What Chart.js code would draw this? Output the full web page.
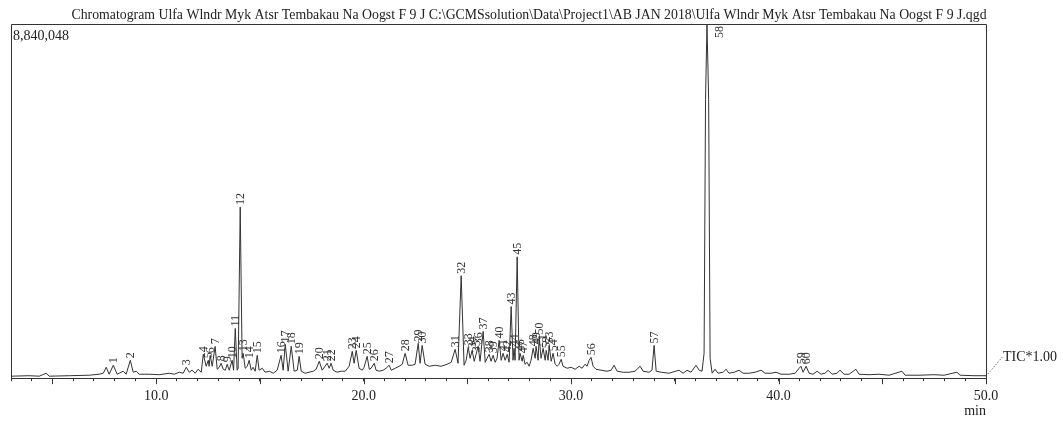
<!DOCTYPE html>
<html>
<head>
<meta charset="utf-8">
<script src="https://cdn.jsdelivr.net/npm/chart.js@4"></script>
<style>
  html, body { margin: 0; padding: 0; background: #fff; }
  #wrap { width: 1063px; height: 422px; }
</style>
</head>
<body>
<div id="wrap"><canvas id="chart"></canvas></div>
<script>
const titleText = "Chromatogram Ulfa Wlndr Myk Atsr Tembakau Na Oogst F 9 J C:\\GCMSsolution\\Data\\Project1\\AB JAN 2018\\Ulfa Wlndr Myk Atsr Tembakau Na Oogst F 9 J.qgd";
const yMax = 8840048;
const xLabels = [10, 20, 30, 40, 50];

// retention time (min) and TIC intensity
const rtMin = [
  3.00, 3.88, 4.36, 4.70, 4.84, 5.81, 6.77, 7.25, 7.45, 7.59, 7.73, 7.93, 8.12, 8.41, 8.55, 8.75, 8.89, 9.04, 9.18, 9.66,
  10.14, 10.63, 10.87, 11.11, 11.30, 11.45, 11.59, 11.73, 11.88, 12.02, 12.17, 12.27, 12.41, 12.51, 12.55, 12.60, 12.70, 12.84, 12.94, 13.04,
  13.13, 13.23, 13.33, 13.42, 13.52, 13.66, 13.73, 13.81, 13.90, 13.95, 14.05, 14.14, 14.19, 14.29, 14.39, 14.48, 14.58, 14.67, 14.77, 14.87,
  14.96, 15.11, 15.25, 15.45, 15.64, 15.83, 16.02, 16.12, 16.22, 16.36, 16.51, 16.65, 16.80, 16.89, 16.99, 17.18, 17.37, 17.57, 17.71, 17.86,
  18.00, 18.14, 18.24, 18.34, 18.43, 18.53, 18.72, 18.92, 19.11, 19.30, 19.45, 19.54, 19.64, 19.78, 19.93, 20.02, 20.17, 20.27, 20.36, 20.51,
  20.60, 20.75, 20.94, 21.08, 21.23, 21.33, 21.52, 21.71, 21.86, 22.00, 22.14, 22.34, 22.48, 22.63, 22.72, 22.82, 22.96, 23.16, 23.45, 23.73,
  24.02, 24.22, 24.41, 24.55, 24.70, 24.84, 24.94, 25.04, 25.13, 25.23, 25.33, 25.42, 25.52, 25.61, 25.76, 25.86, 25.95, 26.05, 26.14, 26.24,
  26.34, 26.43, 26.53, 26.63, 26.72, 26.82, 26.92, 27.01, 27.11, 27.20, 27.25, 27.30, 27.40, 27.49, 27.54, 27.64, 27.69, 27.78, 27.88, 27.98,
  28.07, 28.17, 28.27, 28.31, 28.41, 28.46, 28.55, 28.65, 28.75, 28.80, 28.89, 28.94, 29.04, 29.13, 29.23, 29.33, 29.42, 29.52, 29.61, 29.81,
  30.00, 30.19, 30.39, 30.53, 30.67, 30.77, 30.87, 30.96, 31.06, 31.20, 31.45, 31.73, 31.93, 32.07, 32.22, 32.51, 32.80, 33.08, 33.33, 33.47,
  33.76, 33.90, 34.00, 34.10, 34.34, 34.72, 35.20, 35.40, 35.59, 35.78, 36.02, 36.17, 36.31, 36.41, 36.48, 36.55, 36.63, 36.70, 36.80, 36.94,
  37.08, 37.33, 37.47, 37.61, 37.86, 38.10, 38.29, 38.58, 38.87, 39.16, 39.35, 39.64, 39.88, 40.12, 40.51, 40.80, 40.99, 41.08, 41.18, 41.33,
  41.47, 41.66, 41.86, 42.05, 42.24, 42.39, 42.58, 42.82, 42.96, 43.16, 43.40, 43.73, 43.88, 44.36, 44.84, 45.33, 45.95, 46.10, 46.77, 47.49,
  47.98, 48.60, 48.75, 49.42, 50.00
];
const tic = [
  50000, 62000, 50000, 124000, 50000, 62000, 74500, 99000, 124000, 273000, 99000, 323000, 99000, 174000, 99000, 447000, 149000, 174000, 99000, 99000,
  87000, 124000, 99000, 149000, 124000, 273000, 149000, 199000, 124000, 223000, 149000, 596000, 298000, 447000, 298000, 571000, 298000, 795000, 223000, 273000,
  372000, 223000, 199000, 348000, 199000, 447000, 199000, 1242000, 199000, 248000, 4271000, 497000, 621000, 248000, 298000, 447000, 199000, 273000, 174000, 571000,
  199000, 248000, 149000, 174000, 124000, 199000, 571000, 199000, 844000, 174000, 795000, 174000, 199000, 546000, 174000, 124000, 149000, 174000, 223000, 422000,
  199000, 298000, 372000, 248000, 372000, 199000, 149000, 174000, 174000, 298000, 670000, 372000, 695000, 248000, 199000, 273000, 546000, 223000, 248000, 372000,
  199000, 174000, 199000, 248000, 323000, 199000, 248000, 298000, 348000, 621000, 323000, 323000, 348000, 869000, 372000, 819000, 348000, 298000, 323000, 298000,
  348000, 397000, 720000, 372000, 2558000, 323000, 447000, 770000, 497000, 695000, 422000, 596000, 795000, 422000, 1167000, 397000, 497000, 596000, 422000, 571000,
  397000, 497000, 944000, 447000, 621000, 447000, 596000, 397000, 1788000, 447000, 745000, 447000, 3030000, 447000, 621000, 422000, 571000, 348000, 397000, 298000,
  447000, 745000, 497000, 795000, 447000, 1043000, 497000, 745000, 447000, 695000, 447000, 819000, 422000, 621000, 348000, 298000, 348000, 472000, 298000, 248000,
  273000, 223000, 298000, 248000, 348000, 298000, 447000, 521000, 298000, 223000, 199000, 174000, 199000, 323000, 174000, 149000, 149000, 174000, 298000, 174000,
  149000, 199000, 819000, 174000, 149000, 124000, 199000, 124000, 199000, 149000, 323000, 199000, 174000, 621000, 6953000, 8840048, 6953000, 497000, 124000, 223000,
  124000, 149000, 223000, 124000, 149000, 199000, 124000, 124000, 149000, 199000, 124000, 124000, 149000, 99000, 99000, 124000, 248000, 298000, 149000, 298000,
  124000, 99000, 174000, 99000, 124000, 199000, 99000, 124000, 199000, 99000, 99000, 223000, 99000, 87000, 99000, 74500, 174000, 74500, 74500, 87000,
  74500, 149000, 74500, 62000, 62000
];

// peak numbers and their retention times
const peakNo = [
  1, 2, 3, 4, 5, 6, 7, 8, 9, 10, 11, 12, 13, 14, 15, 16, 17, 18, 19, 20,
  21, 22, 23, 24, 25, 26, 27, 28, 29, 30, 31, 32, 33, 34, 35, 36, 37, 38, 39, 40,
  41, 42, 43, 44, 45, 46, 47, 48, 49, 50, 51, 52, 53, 54, 55, 56, 57, 58, 59, 60
];
const peakRt = [
  7.93, 8.75, 11.45, 12.27, 12.51, 12.60, 12.84, 13.13, 13.42, 13.66, 13.81, 14.05, 14.19, 14.48, 14.87, 16.02, 16.22, 16.51, 16.89, 17.86,
  18.24, 18.43, 19.45, 19.64, 20.17, 20.51, 21.23, 22.00, 22.63, 22.82, 24.41, 24.70, 25.04, 25.23, 25.42, 25.52, 25.76, 26.05, 26.24, 26.53,
  26.72, 26.92, 27.11, 27.25, 27.40, 27.54, 27.69, 28.17, 28.31, 28.46, 28.65, 28.80, 28.94, 29.13, 29.52, 30.96, 34.00, 36.55, 41.08, 41.33
];

const serif = "'Liberation Serif', 'DejaVu Serif', serif";

const overlay = {
  id: "overlay",
  afterDraw(chart) {
    const ctx = chart.ctx;
    const a = chart.chartArea;
    const xs = chart.scales.x;
    const ys = chart.scales.y;
    ctx.save();

    // frame
    ctx.strokeStyle = "#333";
    ctx.lineWidth = 1;
    ctx.beginPath();
    ctx.moveTo(a.left + 0.5, a.bottom);
    ctx.lineTo(a.left + 0.5, a.top + 0.5);
    ctx.lineTo(a.right + 0.5, a.top + 0.5);
    ctx.lineTo(a.right + 0.5, a.bottom);
    ctx.stroke();

    // longer ticks every 5 min
    ctx.beginPath();
    for (let t = 5; t <= 50; t += 5) {
      const px = Math.round(xs.getPixelForValue(t)) + 0.5;
      ctx.moveTo(px, a.bottom);
      ctx.lineTo(px, a.bottom + 6);
    }
    ctx.stroke();

    // title
    ctx.fillStyle = "#222";
    ctx.font = "13.8px " + serif;
    ctx.textAlign = "center";
    ctx.textBaseline = "middle";
    ctx.fillText(titleText, 529, 15);

    // full scale value
    ctx.textAlign = "left";
    ctx.textBaseline = "top";
    ctx.font = "14px " + serif;
    ctx.fillText(yMax.toLocaleString("en-US"), a.left + 2, a.top + 5);

    // min label
    ctx.font = "14px " + serif;
    ctx.textAlign = "right";
    ctx.textBaseline = "middle";
    ctx.fillText("min", a.right, 411);

    // TIC label
    ctx.textAlign = "left";
    ctx.fillText("TIC*1.00", a.right + 17, 357);
    ctx.setLineDash([1, 2]);
    ctx.beginPath();
    ctx.moveTo(a.right, a.bottom - 2);
    ctx.lineTo(a.right + 17, a.bottom - 22);
    ctx.stroke();
    ctx.setLineDash([]);

    // peak numbers
    ctx.font = "12px " + serif;
    ctx.fillStyle = "#333";
    peakNo.forEach((n, i) => {
      let best = 0;
      rtMin.forEach((t, j) => {
        if (Math.abs(t - peakRt[i]) < Math.abs(rtMin[best] - peakRt[i])) best = j;
      });
      const px = xs.getPixelForValue(rtMin[best]);
      const py = ys.getPixelForValue(tic[best]);
      ctx.save();
      if (py < a.top + 16) {
        ctx.translate(px + 13, a.top + 2);
        ctx.rotate(-Math.PI / 2);
        ctx.textAlign = "right";
      } else {
        ctx.translate(px + 0.5, py - 2);
        ctx.rotate(-Math.PI / 2);
        ctx.textAlign = "left";
      }
      ctx.textBaseline = "middle";
      ctx.fillText(String(n), 0, 0);
      ctx.restore();
    });

    ctx.restore();
  }
};

new Chart(document.getElementById("chart"), {
  type: "line",
  data: {
    datasets: [{
      label: "TIC",
      data: rtMin.map((t, i) => ({ x: t, y: tic[i] })),
      borderColor: "#333",
      borderWidth: 1,
      pointRadius: 0,
      tension: 0,
      fill: false
    }]
  },
  options: {
    responsive: true,
    maintainAspectRatio: false,
    animation: false,
    layout: { padding: { left: 11, right: 77, top: 24, bottom: 10 } },
    plugins: {
      legend: { display: false },
      tooltip: { enabled: false },
      title: { display: false }
    },
    scales: {
      x: {
        type: "linear",
        min: 3,
        max: 50,
        grid: { drawOnChartArea: false, tickLength: 3, color: "#333" },
        border: { display: true, color: "#333", width: 1 },
        ticks: {
          stepSize: 1,
          autoSkip: false,
          maxRotation: 0,
          padding: 7,
          color: "#222",
          font: { family: serif, size: 14 },
          callback: v => xLabels.includes(v) ? v.toFixed(1) : ""
        }
      },
      y: { display: false, min: 0, max: yMax }
    }
  },
  plugins: [overlay]
});
</script>
</body>
</html>
